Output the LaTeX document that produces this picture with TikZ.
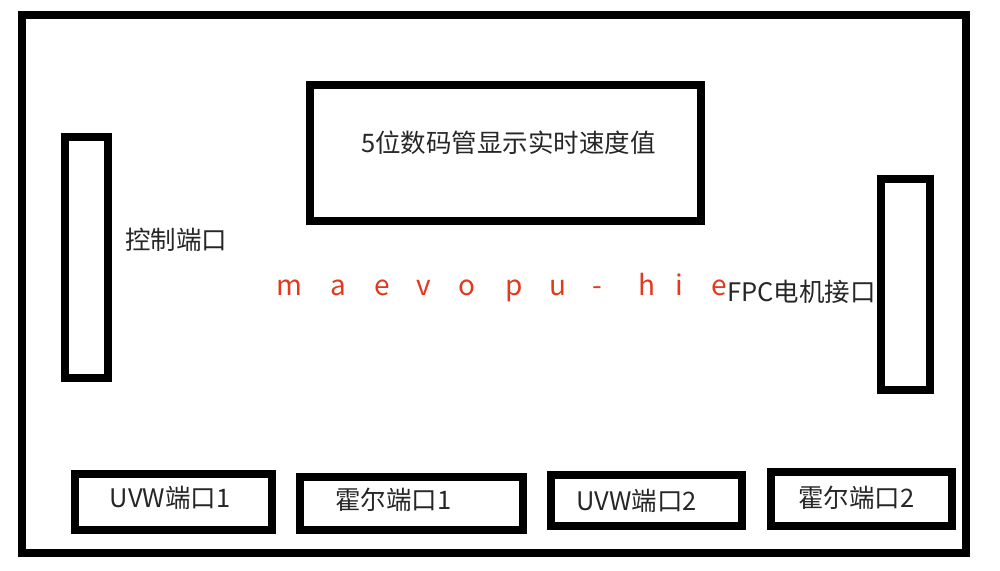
\documentclass[tikz,border=0pt]{standalone}
\usepackage{fontspec}
\setmainfont{Noto Sans CJK SC}
\usetikzlibrary{positioning}
\definecolor{redtxt}{RGB}{226,58,30}
\tikzset{
  frame/.style={draw, line width=8pt},
  portbox/.style={draw, line width=7.5pt, inner sep=0pt},
  lbl/.style={font=\fontsize{25.5}{30}\selectfont, text=black!85, inner sep=0pt}
}

\begin{document}
\begin{tikzpicture}[x=1pt,y=-1pt]
\useasboundingbox (0,0) rectangle (1000,570);
% Board outline
\draw[frame] (22,15) rectangle (966,553);

% Display
\node[portbox, minimum width=391pt, minimum height=136pt] (disp) at (505.5,153) {};
\node[lbl] (disptxt) at ([xshift=3pt,yshift=10pt]disp.center) {5位数码管显示实时速度值};

% Side ports
\node[portbox, minimum width=43pt, minimum height=241pt] (ctrl) at (86.5,257.5) {};
\node[lbl, anchor=west] (ctrltxt) at (125,240) {控制端口};
\node[portbox, minimum width=49pt, minimum height=211pt] (fpc) at (905.5,284.5) {};
\node[lbl, anchor=east] (fpctxt) at (876,292) {FPC电机接口};

% Red letters
\foreach \ch/\x [count=\i] in {m/289,a/338,e/382,v/424,o/467,p/514,u/558,-/597,h/647,i/679,e/719}
  \node[lbl, font=\fontsize{28}{32}\selectfont, text=redtxt, anchor=base] (red\i) at (\x,295) {\ch};

% Bottom ports
\node[portbox, minimum width=197pt, minimum height=56pt] (uvwa) at (173.5,502) {};
\node[lbl] (uvwatxt) at ([xshift=-3.5pt,yshift=4pt]uvwa.center) {UVW端口1};
\node[portbox, minimum width=223pt, minimum height=53pt] (halla) at (411.5,503.5) {};
\node[lbl] (hallatxt) at ([xshift=-18pt,yshift=4pt]halla.center) {霍尔端口1};
\node[portbox, minimum width=191pt, minimum height=51pt] (uvwb) at (646.5,500.5) {};
\node[lbl] (uvwbtxt) at ([xshift=-10pt]uvwb.center) {UVW端口2};
\node[portbox, minimum width=181pt, minimum height=54pt] (hallb) at (861.5,499) {};
\node[lbl] (hallbtxt) at ([xshift=-5pt,yshift=1pt]hallb.center) {霍尔端口2};
\end{tikzpicture}
\end{document}
